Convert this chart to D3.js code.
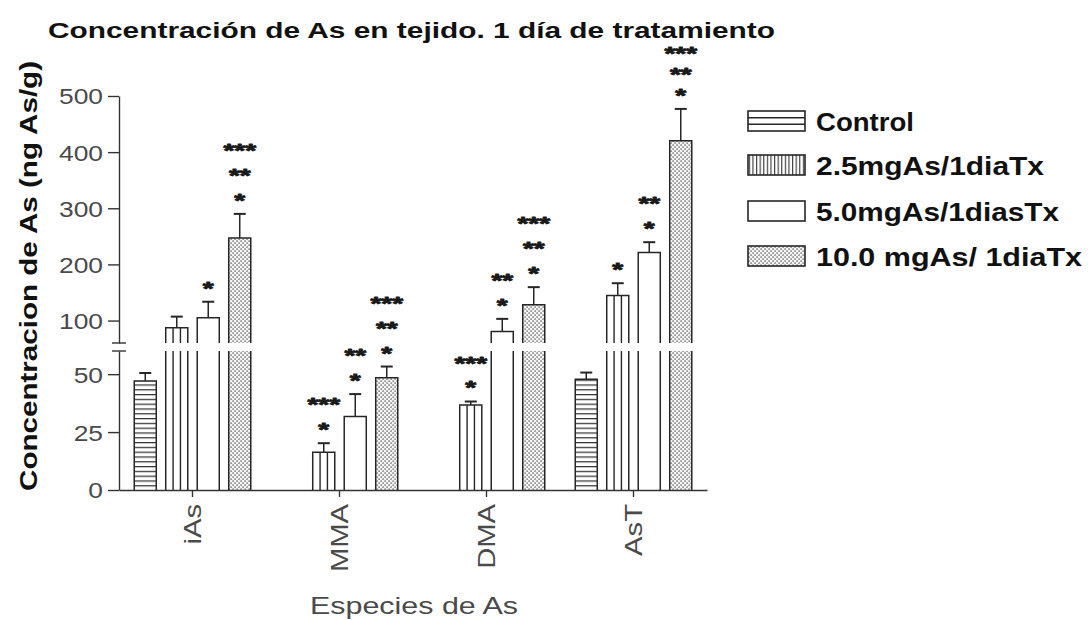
<!DOCTYPE html>
<html>
<head>
<meta charset="utf-8">
<script src="https://cdn.jsdelivr.net/npm/d3@7"></script>
<style>
  html, body { margin: 0; padding: 0; background: #fff; }
  svg { display: block; }
  text { font-family: "Liberation Sans", Arial, sans-serif; }
</style>
</head>
<body>
<svg id="chart" width="1088" height="620"></svg>
<script>
// ---- data -------------------------------------------------------------
const categories = ["iAs", "MMA", "DMA", "AsT"];
const seriesNames = ["Control", "2.5mgAs/1diaTx", "5.0mgAs/1diasTx", "10.0 mgAs/ 1diaTx"];

// mean concentration (ng As/g) per species, one array per treatment
const controlValues = [47, null, null, 47.8];
const dose25Values  = [87, 16.3, 36.7, 144.5];
const dose50Values  = [105, 31.7, 80.4, 221];
const dose100Values = [247, 48.5, 128, 420.5];

// upper error (SEM)
const controlErrors = [3.5, null, null, 2.9];
const dose25Errors  = [20, 3.9, 1.5, 22];
const dose50Errors  = [28.5, 9.7, 22.6, 18.6];
const dose100Errors = [43, 4.8, 31.5, 56.5];

// significance marks stacked above each bar (bottom row first)
const controlStars = [[], [], [], []];
const dose25Stars  = [[], ["*", "***"], ["*", "***"], ["*"]];
const dose50Stars  = [["*"], ["*", "**"], ["*", "**"], ["*", "**"]];
const dose100Stars = [["*", "**", "***"], ["*", "**", "***"], ["*", "**", "***"], ["*", "**", "***"]];

// axis tick values on both sides of the break
const lowerTicks = [0, 25, 50];
const upperTicks = [100, 200, 300, 400, 500];
const breakValue = 60;

const titleText = "Concentración de As en tejido. 1 día de tratamiento";
const yTitle = "Concentracion de As (ng As/g)";
const xTitle = "Especies de As";

// ---- layout ----------------------------------------------------------
const svg = d3.select("#chart");
const X0 = 119, X1 = 707;
const yBase = 490;

const series = [
  { key: "control", name: seriesNames[0], values: controlValues, errors: controlErrors, stars: controlStars },
  { key: "d25", name: seriesNames[1], values: dose25Values, errors: dose25Errors, stars: dose25Stars },
  { key: "d50", name: seriesNames[2], values: dose50Values, errors: dose50Errors, stars: dose50Stars },
  { key: "d100", name: seriesNames[3], values: dose100Values, errors: dose100Errors, stars: dose100Stars }
];

const x0 = d3.scaleBand().domain(categories).range([X0, X1]).paddingInner(0.143).paddingOuter(0.0715);
const x1 = d3.scaleBand().domain(series.map(s => s.key)).range([0, x0.bandwidth()]).paddingInner(0.3).paddingOuter(0.15);

const yLow = d3.scaleLinear().domain([0, breakValue]).range([yBase, 351]);
const yHigh = d3.scaleLinear().domain([breakValue, 500]).range([343, 96]);
const yv = v => (v <= breakValue ? yLow(v) : yHigh(v));

const ink = "#262626";
const grey = "#4a4a4a";

// ---- fill patterns ---------------------------------------------------
const defs = svg.append("defs");
const hp = defs.append("pattern").attr("id", "hlines").attr("patternUnits", "userSpaceOnUse")
  .attr("width", 8).attr("height", 4.8).attr("y", yBase % 4.8);
hp.append("rect").attr("width", 8).attr("height", 4.8).attr("fill", "#fff");
hp.append("line").attr("x1", 0).attr("x2", 8).attr("y1", 0.6).attr("y2", 0.6)
  .attr("stroke", "#333").attr("stroke-width", 1.3);

const dp = defs.append("pattern").attr("id", "dots").attr("patternUnits", "userSpaceOnUse")
  .attr("width", 4).attr("height", 4);
dp.append("rect").attr("width", 4).attr("height", 4).attr("fill", "#f4f4f4");
dp.append("rect").attr("x", 0.4).attr("y", 0.4).attr("width", 1.4).attr("height", 1.4).attr("fill", "#666");
dp.append("rect").attr("x", 2.4).attr("y", 2.4).attr("width", 1.4).attr("height", 1.4).attr("fill", "#666");

const vp = defs.append("pattern").attr("id", "vlines").attr("patternUnits", "userSpaceOnUse")
  .attr("width", 3.6).attr("height", 8);
vp.append("rect").attr("width", 3.6).attr("height", 8).attr("fill", "#fff");
vp.append("line").attr("x1", 0.6).attr("x2", 0.6).attr("y1", 0).attr("y2", 8)
  .attr("stroke", "#333").attr("stroke-width", 1.1);

const fillFor = { control: "url(#hlines)", d25: "#fff", d50: "#fff", d100: "url(#dots)" };

// horizontal stretch applied to text anchored at (x, y)
function placeText(sel, x, y, sx, rot) {
  sel.attr("x", 0).attr("y", 0)
    .attr("transform", `translate(${x},${y})` + (rot ? ` rotate(${rot})` : "") + ` scale(${sx},1)`);
}

// ---- title -----------------------------------------------------------
svg.append("text").text(titleText)
  .attr("x", 48).attr("y", 38)
  .attr("font-size", 22).attr("font-weight", "bold").attr("fill", "#111")
  .attr("textLength", 727).attr("lengthAdjust", "spacingAndGlyphs");

// ---- bars ------------------------------------------------------------
const starSize = 18;
const starTop = 52;
const barG = svg.append("g");
series.forEach(s => {
  categories.forEach((c, i) => {
    const v = s.values[i];
    if (v == null) return;
    const bx = x0(c) + x1(s.key);
    const bw = x1.bandwidth();
    const g = barG.append("g");
    const segs = v <= breakValue
      ? [{ top: yLow(v), bot: yLow(0), closedTop: true }]
      : [{ top: yLow(breakValue), bot: yLow(0), closedTop: false },
         { top: yHigh(v), bot: yHigh(breakValue), closedTop: true }];
    segs.forEach(sg => {
      g.append("rect").attr("x", bx).attr("y", sg.top).attr("width", bw).attr("height", sg.bot - sg.top)
        .attr("fill", fillFor[s.key]);
      if (s.key === "d25") {
        [1, 2].forEach(k => {
          g.append("line").attr("x1", bx + bw * k / 3).attr("x2", bx + bw * k / 3)
            .attr("y1", sg.top).attr("y2", sg.bot).attr("stroke", ink).attr("stroke-width", 1.4);
        });
      }
      const path = d3.path();
      path.moveTo(bx, sg.bot);
      path.lineTo(bx, sg.top);
      if (sg.closedTop) path.lineTo(bx + bw, sg.top); else path.moveTo(bx + bw, sg.top);
      path.lineTo(bx + bw, sg.bot);
      g.append("path").attr("d", path.toString()).attr("fill", "none")
        .attr("stroke", ink).attr("stroke-width", 1.5);
    });

    // upper error bar
    const e = s.errors[i];
    const cx = bx + bw / 2;
    const capY = yv(v + e);
    g.append("line").attr("x1", cx).attr("x2", cx).attr("y1", yv(v)).attr("y2", capY)
      .attr("stroke", ink).attr("stroke-width", 1.5);
    g.append("line").attr("x1", cx - 6).attr("x2", cx + 6).attr("y1", capY).attr("y2", capY)
      .attr("stroke", ink).attr("stroke-width", 2);

    // significance marks: one stacked label per bar, top row first
    const rows = s.stars[i];
    if (rows.length) {
      const gap = 15;
      const step = rows.length > 1 ? Math.min(25, (capY - gap - starTop) / (rows.length - 1)) : 25;
      const topY = capY - gap - (rows.length - 1) * step;
      const label = g.append("text")
        .attr("text-anchor", "middle")
        .attr("font-family", "DejaVu Sans")
        .attr("font-weight", "bold")
        .attr("font-size", starSize)
        .attr("fill", "#1a1a1a")
        .attr("stroke", "#1a1a1a")
        .attr("stroke-width", 0.9)
        .attr("stroke-linejoin", "round")
        .call(placeText, cx, topY + 8, 1.55);
      rows.slice().reverse().forEach((r, k) => {
        label.append("tspan").attr("x", 0).attr("dy", k === 0 ? 0 : step).text(r);
      });
    }
  });
});

// ---- axes ------------------------------------------------------------
const axG = svg.append("g");
function styleAxis(g) {
  g.selectAll("path, line").attr("stroke", "#333").attr("stroke-width", 1.4);
  g.selectAll("text").attr("font-size", 22).attr("fill", grey)
    .attr("font-family", "Liberation Sans, Arial, sans-serif");
}

const upperAxis = axG.append("g").attr("transform", `translate(${X0},0)`)
  .call(d3.axisLeft(yHigh).tickValues(upperTicks).tickSize(11).tickSizeOuter(0).tickPadding(5));
const lowerAxis = axG.append("g").attr("transform", `translate(${X0},0)`)
  .call(d3.axisLeft(yLow).tickValues(lowerTicks).tickSize(11).tickSizeOuter(0).tickPadding(5));
[upperAxis, lowerAxis].forEach(a => {
  a.call(styleAxis);
  a.selectAll(".tick text").each(function () {
    const t = d3.select(this);
    const tx = +t.attr("x");
    t.attr("dy", "0.36em").call(placeText, tx, 0, 1.2);
  });
});

// break marks across the y axis
[yHigh(breakValue), yLow(breakValue)].forEach(by => {
  axG.append("line").attr("x1", X0 - 7).attr("x2", X0 + 7).attr("y1", by).attr("y2", by)
    .attr("stroke", "#333").attr("stroke-width", 1.4);
});

const xAxis = axG.append("g").attr("transform", `translate(0,${yBase})`)
  .call(d3.axisBottom(x0).tickSize(7).tickSizeOuter(0));
xAxis.call(styleAxis);
xAxis.selectAll(".tick text").each(function (d) {
  d3.select(this).attr("text-anchor", "end").attr("dy", "0.36em")
    .attr("font-size", 23)
    .call(placeText, 0, 14, 1.27, -90);
});

// axis titles
svg.append("text").text(yTitle)
  .attr("text-anchor", "middle").attr("font-size", 24).attr("font-weight", "bold").attr("fill", "#111")
  .attr("textLength", 430).attr("lengthAdjust", "spacingAndGlyphs")
  .attr("transform", "translate(37,276) rotate(-90)");

svg.append("text").text(xTitle)
  .attr("x", 414).attr("y", 614)
  .attr("text-anchor", "middle").attr("font-size", 24).attr("fill", grey)
  .attr("textLength", 208).attr("lengthAdjust", "spacingAndGlyphs");

// ---- legend ----------------------------------------------------------
const legendRows = [121, 165, 211, 256];
const legendLengths = [98, 228, 243, 266];
const lg = svg.append("g");
series.forEach((s, i) => {
  const cy = legendRows[i];
  const sx = 748, sw = 57, sh = 20, sy = cy - sh / 2;
  const fill = s.key === "d25" ? "url(#vlines)" : s.key === "d100" ? "url(#dots)" : "#fff";
  lg.append("rect").attr("x", sx).attr("y", sy).attr("width", sw).attr("height", sh)
    .attr("fill", fill).attr("stroke", ink).attr("stroke-width", 1.6);
  if (s.key === "control") {
    [1, 2].forEach(k => {
      lg.append("line").attr("x1", sx).attr("x2", sx + sw)
        .attr("y1", sy + sh * k / 3).attr("y2", sy + sh * k / 3)
        .attr("stroke", ink).attr("stroke-width", 1.5);
    });
  }
  lg.append("text").text(s.name)
    .attr("x", 816).attr("y", cy + 10)
    .attr("font-size", 26).attr("font-weight", "bold").attr("fill", "#111")
    .attr("textLength", legendLengths[i]).attr("lengthAdjust", "spacingAndGlyphs");
});
</script>
</body>
</html>
